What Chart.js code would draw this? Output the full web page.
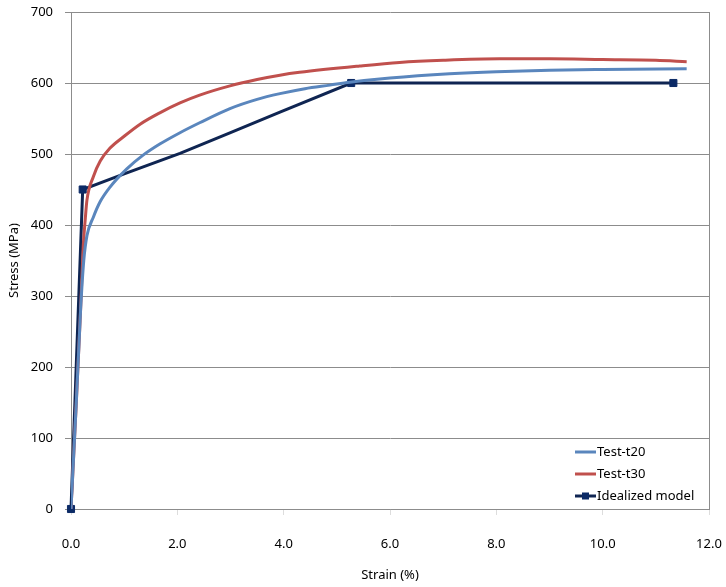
<!DOCTYPE html>
<html lang="en">
<head>
  <meta charset="UTF-8" />
  <title>Stress-Strain</title>
  <script src="https://cdn.jsdelivr.net/npm/chart.js"></script>
  <style>
    * { margin: 0; padding: 0; box-sizing: border-box; }
    body { background: #fff; width: 726px; height: 587px; overflow: hidden; }
    .wrap { position: relative; width: 726px; height: 587px; }
  </style>
</head>
<body>
  <div class="wrap"><canvas id="chart"></canvas></div>

  <script>
    // strain (%) / stress (MPa)
    const t20Strain = [0, 0.10, 0.18, 0.24, 0.30, 0.42, 0.55, 0.73, 1.05, 1.35, 1.67, 2.05, 2.42, 2.99, 3.50, 3.93, 4.40, 4.87, 5.24, 6.00, 7.12, 8.00, 9.00, 10.00, 11.58];
    const t20Stress = [0, 150, 280, 350, 385, 411, 433, 453, 479, 498, 514, 530, 544, 564, 577, 585, 592, 597, 601, 607, 613, 616, 618, 619, 620];

    const t30Strain = [0, 0.10, 0.18, 0.23, 0.27, 0.30, 0.42, 0.55, 0.73, 1.00, 1.30, 1.67, 2.05, 2.42, 2.99, 3.50, 3.93, 4.30, 5.43, 6.18, 7.00, 8.06, 9.00, 10.00, 11.00, 11.58];
    const t30Stress = [0, 150, 280, 370, 410, 435, 468, 490, 508, 525, 542, 558, 572, 583, 596, 605, 611, 615, 624, 629, 632, 634, 634, 633, 632, 630];

    const idealStrain = [0, 0.22, 1.00, 2.05, 3.00, 3.93, 5.27, 11.33];
    const idealStress = [0, 450, 472, 501, 530, 559, 600, 600];
    const idealMarked = [true, true, false, false, false, false, true, true];

    const xTicks = [0, 2, 4, 6, 8, 10, 12];
    const yTicks = [0, 100, 200, 300, 400, 500, 600, 700];

    const toPoints = (xs, ys) => xs.map((x, i) => ({ x: x, y: ys[i] }));

    const FONT = "'Noto Sans', 'DejaVu Sans', sans-serif";
    const GRID = '#8c8c8c';

    // legend drawn inside plot area, bottom right
    const insideLegend = {
      id: 'insideLegend',
      afterDraw(chart) {
        const ctx = chart.ctx;
        const a = chart.chartArea;
        const x0 = a.right - 134;
        let y = a.bottom - 57;
        ctx.save();
        ctx.font = '13px ' + FONT;
        ctx.textBaseline = 'middle';
        chart.data.datasets.forEach(ds => {
          ctx.strokeStyle = ds.borderColor;
          ctx.lineWidth = 3;
          ctx.beginPath();
          ctx.moveTo(x0, y);
          ctx.lineTo(x0 + 21, y);
          ctx.stroke();
          if (ds.label === 'Idealized model') {
            ctx.fillStyle = '#0b2a66';
            ctx.fillRect(x0 + 7, y - 3.5, 7, 7);
          }
          ctx.fillStyle = '#000';
          ctx.fillText(ds.label, x0 + 22, y);
          y += 22;
        });
        ctx.restore();
      }
    };

    // right frame line
    const frame = {
      id: 'frame',
      beforeDatasetsDraw(chart) {
        const ctx = chart.ctx;
        const a = chart.chartArea;
        ctx.save();
        ctx.strokeStyle = GRID;
        ctx.lineWidth = 1;
        ctx.beginPath();
        ctx.moveTo(Math.round(a.right) + 0.5, a.top);
        ctx.lineTo(Math.round(a.right) + 0.5, a.bottom);
        ctx.stroke();
        ctx.restore();
      }
    };

    new Chart(document.getElementById('chart'), {
      type: 'line',
      data: {
        datasets: [
          {
            label: 'Test-t20',
            data: toPoints(t20Strain, t20Stress),
            borderColor: '#5a86bd',
            borderWidth: 3,
            pointRadius: 0,
            cubicInterpolationMode: 'monotone'
          },
          {
            label: 'Test-t30',
            data: toPoints(t30Strain, t30Stress),
            borderColor: '#c0504d',
            borderWidth: 3,
            pointRadius: 0,
            cubicInterpolationMode: 'monotone'
          },
          {
            label: 'Idealized model',
            data: toPoints(idealStrain, idealStress),
            borderColor: '#0f2552',
            borderWidth: 3,
            pointStyle: 'rect',
            pointRadius: idealMarked.map(m => m ? 5 : 0),
            pointBackgroundColor: '#0b2a66',
            pointBorderColor: '#0b2a66',
            pointBorderWidth: 1,
            tension: 0,
            clip: false
          }
        ]
      },
      options: {
        responsive: true,
        maintainAspectRatio: false,
        animation: false,
        layout: { padding: { top: 12, right: 17, left: 0, bottom: 0 } },
        plugins: {
          legend: { display: false },
          tooltip: { enabled: false }
        },
        scales: {
          x: {
            type: 'linear',
            min: 0,
            max: 12,
            afterBuildTicks: s => { s.ticks = xTicks.map(v => ({ value: v })); },
            afterFit: s => { s.height = 78; s.paddingLeft = 0; s.paddingRight = 0; },
            ticks: {
              callback: v => v.toFixed(1),
              font: { family: FONT, size: 13 },
              color: '#000',
              padding: 21,
              maxRotation: 0
            },
            grid: { drawOnChartArea: false, drawTicks: true, tickLength: 6, color: '#dddddd' },
            border: { color: GRID },
            title: {
              display: true,
              text: 'Strain (%)',
              font: { family: FONT, size: 13 },
              color: '#000',
              padding: { top: 0, bottom: 4 }
            }
          },
          y: {
            min: 0,
            max: 700,
            afterBuildTicks: s => { s.ticks = yTicks.map(v => ({ value: v })); },
            afterFit: s => { s.width = 71; s.paddingTop = 0; s.paddingBottom = 0; },
            ticks: {
              font: { family: FONT, size: 13 },
              color: '#000',
              padding: 12
            },
            grid: { color: GRID, tickLength: 6, lineWidth: 1 },
            border: { color: GRID },
            title: {
              display: true,
              text: 'Stress (MPa)',
              font: { family: FONT, size: 13 },
              color: '#000',
              padding: { top: 6, bottom: 0 }
            }
          }
        }
      },
      plugins: [frame, insideLegend]
    });
  </script>
</body>
</html>
